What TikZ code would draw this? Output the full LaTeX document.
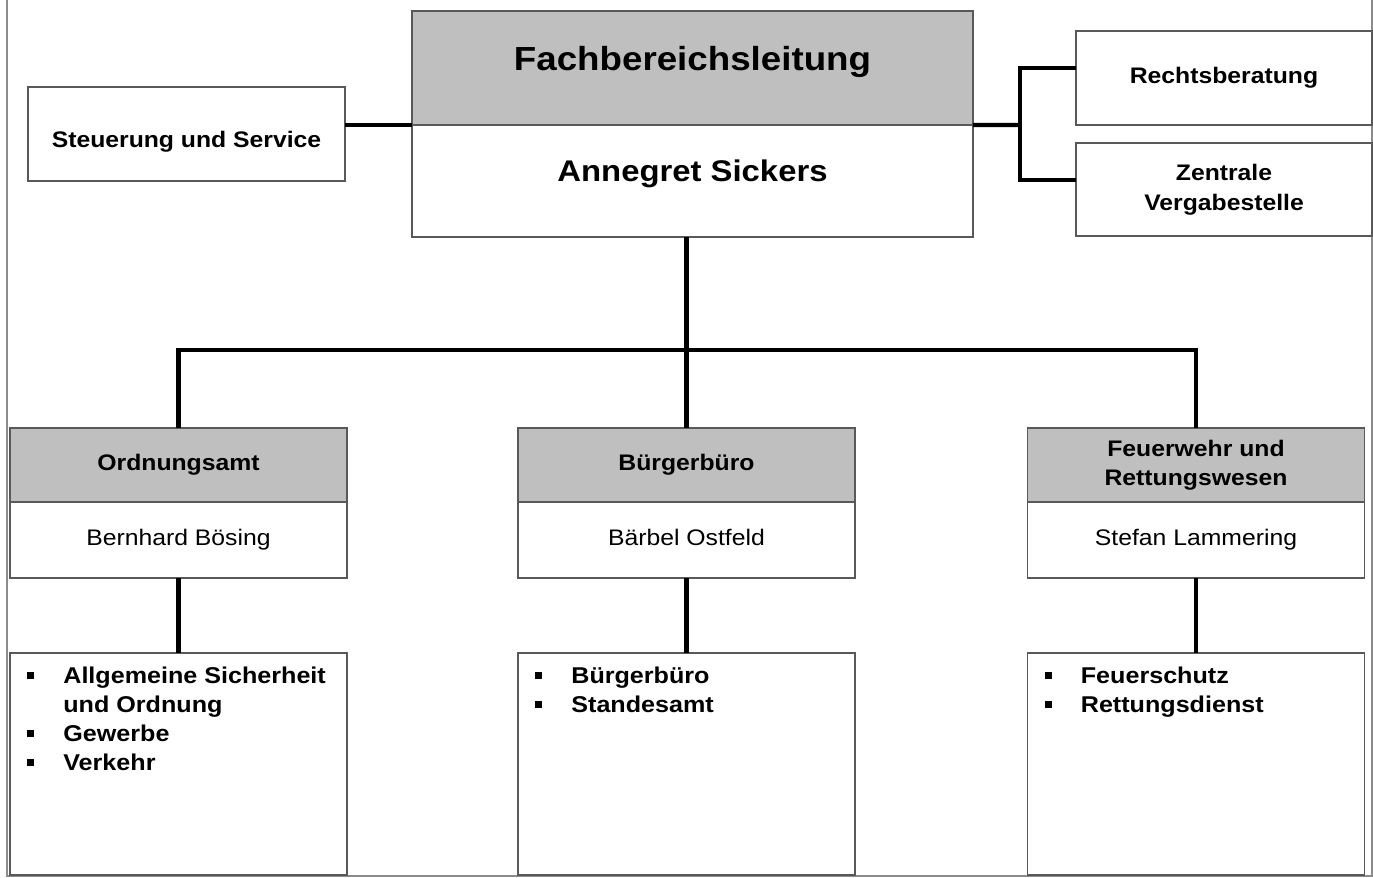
\documentclass[tikz,border=0pt]{standalone}
\usepackage{fontspec}
\setmainfont{Liberation Sans}[FakeStretch=1.1]
\usepackage{tikz}

\newcommand{\bul}{\makebox[0.72cm][l]{\rule[0.09cm]{0.14cm}{0.14cm}}}

\begin{document}
\begin{tikzpicture}[x=0.02cm,y=-0.02cm,
    box/.style={draw=black!65,line width=0.8pt,inner sep=0pt,outer sep=0pt,align=center},
    chief/.style={box,font=\bfseries\fontsize{19}{23}\selectfont,minimum width=11.22cm},
    unit/.style={box,fill=black!25,font=\bfseries\fontsize{12.8}{16.6}\selectfont,minimum width=6.74cm,minimum height=1.48cm},
    person/.style={box,font=\fontsize{12.8}{16.6}\selectfont,text depth=0.1cm,minimum width=6.74cm,minimum height=1.52cm},
    side/.style={box,font=\bfseries\fontsize{12.8}{17.2}\selectfont},
    tasks/.style={box,minimum width=6.74cm,minimum height=4.44cm},
    tasktext/.style={anchor=north west,inner sep=0pt,align=left,font=\bfseries\fontsize{13}{16.5}\selectfont},
    conn/.style={line width=2.3pt}]
    \useasboundingbox (0,0) rectangle (1373,877);
    \draw[black!45,line width=1pt] (7,0) -- (7,876) -- (1372,876) -- (1372,0);

    % Leitung
    \node[chief,fill=black!25,minimum height=2.28cm,text height=0.08cm,text depth=0cm] (fbl) at (692.5,68) {Fachbereichsleitung};
    \node[chief,font=\bfseries\fontsize{17}{21}\selectfont,minimum height=2.24cm,text height=0.02cm,text depth=0cm] (fbln) at (692.5,181) {Annegret Sickers};
    \node[side,minimum width=6.34cm,minimum height=1.88cm,text height=0.52cm,text depth=0cm] (sus) at (186.5,134) {Steuerung und Service};
    \node[side,minimum width=5.92cm,minimum height=1.88cm] (rb) at (1224,78) {Rechtsberatung};
    \node[side,minimum width=5.92cm,minimum height=1.86cm] (zv) at (1224,189.5) {Zentrale\\Vergabestelle};

    % Fachdienste
    \node[unit] (ordh) at (178.5,465) {Ordnungsamt};
    \node[person] (ordp) at (178.5,540) {Bernhard Bösing};
    \node[tasks] (ordl) at (178.5,764) {};
    \node[tasktext] (ordi) at ([xshift=0.34cm,yshift=-0.28cm]ordl.north west)
        {\bul Allgemeine Sicherheit\\\hspace*{0.72cm}und Ordnung\\\bul Gewerbe\\\bul Verkehr};

    \node[unit] (buerh) at (686.5,465) {Bürgerbüro};
    \node[person] (buerp) at (686.5,540) {Bärbel Ostfeld};
    \node[tasks] (buerl) at (686.5,764) {};
    \node[tasktext] (bueri) at ([xshift=0.34cm,yshift=-0.28cm]buerl.north west)
        {\bul Bürgerbüro\\\bul Standesamt};

    \node[unit] (feuh) at (1196,465) {Feuerwehr und\\Rettungswesen};
    \node[person] (feup) at (1196,540) {Stefan Lammering};
    \node[tasks] (feul) at (1196,764) {};
    \node[tasktext] (feui) at ([xshift=0.34cm,yshift=-0.28cm]feul.north west)
        {\bul Feuerschutz\\\bul Rettungsdienst};

    % Linien
    \coordinate (rbj) at (1020,125);
    \coordinate (bus) at (687,350);
    \draw[conn] (sus.east |- fbl.south west) -- (fbl.south west);
    \draw[conn] (fbl.south east) -- (rbj);
    \draw[conn] ([yshift=0.2cm]rb.west) -| (rbj) |- ([yshift=0.19cm]zv.west);
    \draw[conn] (fbln.south -| buerh.north) -- (buerh.north);
    \draw[conn] (ordh.north) |- (bus) -| (feuh.north);
    \draw[conn] (ordp.south) -- (ordl.north);
    \draw[conn] (buerp.south) -- (buerl.north);
    \draw[conn] (feup.south) -- (feul.north);
\end{tikzpicture}
\end{document}
